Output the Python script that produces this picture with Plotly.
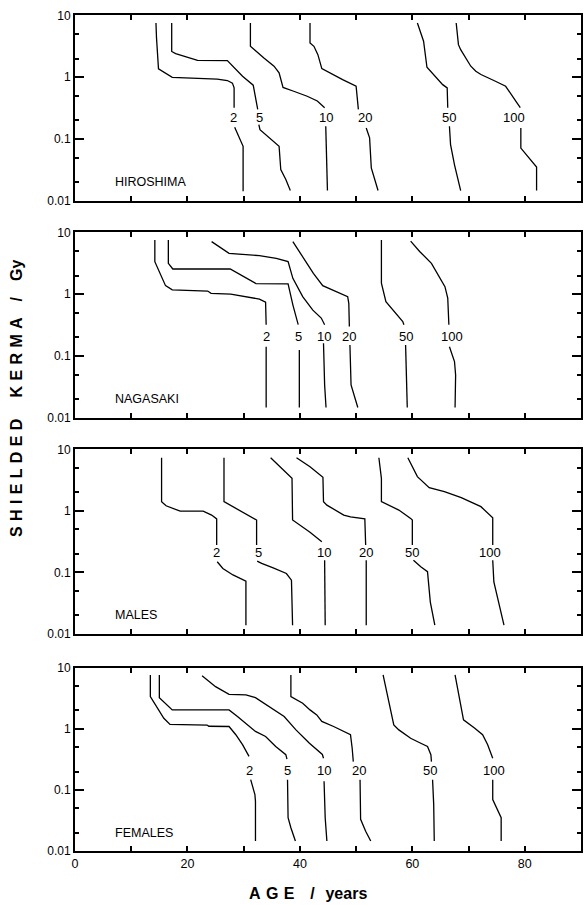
import plotly.graph_objects as go
import math

# ---------------- data (age in years, shielded kerma in Gy) ----------------
LEVELS = [2, 5, 10, 20, 50, 100]
PANEL_NAMES = ["HIROSHIMA", "NAGASAKI", "MALES", "FEMALES"]

# each contour: upper branch / lower branch (gap left for the label)
hiroshima_upper = {
    2: [(14.4, 7.5), (14.5, 4.3), (14.85, 1.36), (17.3, 0.99), (25.3, 0.93), (27.1, 0.88), (28.0, 0.80), (28.3, 0.67), (28.3, 0.32)],
    5: [(17.2, 7.5), (17.2, 2.6), (17.9, 2.4), (21.8, 1.87), (27.1, 1.85), (29.8, 1.03), (31.7, 0.74), (32.4, 0.36), (32.5, 0.30)],
    10: [(31.2, 7.5), (31.2, 3.15), (33.6, 2.04), (35.4, 1.5), (36.3, 1.17), (37.0, 0.68), (38.9, 0.59), (41.3, 0.49), (43.1, 0.41), (44.4, 0.32)],
    20: [(41.8, 7.5), (41.8, 3.57), (42.5, 3.15), (43.2, 2.31), (43.9, 1.37), (45.6, 1.12), (47.6, 0.91), (50.0, 0.71), (50.3, 0.36), (50.4, 0.30)],
    50: [(60.9, 7.5), (62.0, 3.8), (62.6, 1.44), (65.4, 0.755), (66.2, 0.67), (66.3, 0.32)],
    100: [(67.8, 7.5), (68.2, 3.35), (68.6, 2.78), (70.4, 1.5), (71.3, 1.24), (72.2, 1.10), (74.5, 0.88), (76.6, 0.71), (78.4, 0.41), (79.2, 0.32)],
}
hiroshima_lower = {
    2: [(28.4, 0.154), (29.2, 0.104), (29.9, 0.076), (29.9, 0.0142)],
    5: [(32.7, 0.17), (32.9, 0.141), (36.3, 0.076), (36.6, 0.032), (37.5, 0.022), (38.3, 0.0146)],
    10: [(44.6, 0.16), (44.7, 0.049), (44.9, 0.0146)],
    20: [(51.8, 0.150), (52.4, 0.104), (52.7, 0.034), (53.3, 0.023), (53.9, 0.0146)],
    50: [(66.6, 0.16), (66.8, 0.081), (67.5, 0.038), (68.6, 0.0146)],
    100: [(79.3, 0.150), (79.3, 0.071), (82.1, 0.035), (82.1, 0.0146)],
}
hiroshima_label_age = [28.2, 32.8, 44.7, 51.5, 66.6, 78.1]
hiroshima_label_kerma = [0.224] * 6

nagasaki_upper = {
    2: [(14.2, 7.5), (14.2, 3.35), (16.1, 1.37), (17.3, 1.17), (23.6, 1.12), (24.2, 1.03), (27.7, 1.0), (30.4, 0.91), (32.8, 0.83), (33.9, 0.74), (34.0, 0.32)],
    5: [(16.6, 7.5), (16.6, 3.15), (17.4, 2.55), (27.6, 2.55), (32.2, 1.48), (37.9, 1.46), (38.75, 0.67), (39.5, 0.36), (39.7, 0.32)],
    10: [(24.3, 7.06), (27.4, 4.57), (32.8, 4.19), (35.8, 3.79), (37.9, 3.35), (38.75, 1.80), (40.5, 0.91), (42.3, 0.55), (43.8, 0.41), (44.4, 0.32)],
    20: [(38.75, 7.06), (41.1, 3.35), (42.4, 2.17), (44.06, 1.37), (46.4, 1.10), (48.5, 0.91), (48.7, 0.71), (48.8, 0.30)],
    50: [(54.5, 7.5), (54.5, 1.50), (55.3, 0.755), (57.1, 0.49), (58.3, 0.36), (58.5, 0.32)],
    100: [(59.7, 7.2), (61.3, 4.9), (63.4, 3.15), (64.6, 2.04), (65.8, 1.32), (66.3, 0.86), (66.5, 0.32)],
}
nagasaki_lower = {
    2: [(34.0, 0.141), (34.0, 0.0146)],
    5: [(39.9, 0.125), (39.9, 0.0146)],
    10: [(44.2, 0.16), (44.4, 0.034), (44.65, 0.0146)],
    20: [(48.9, 0.15), (49.1, 0.034), (50.3, 0.0146)],
    50: [(58.8, 0.15), (59.1, 0.0146)],
    100: [(66.6, 0.141), (67.5, 0.081), (67.7, 0.049), (67.6, 0.0146)],
}
nagasaki_label_age = [34.0, 39.8, 44.3, 48.7, 58.8, 67.1]
nagasaki_label_kerma = [0.205] * 6

males_upper = {
    2: [(15.4, 7.3), (15.4, 1.41), (16.2, 1.21), (17.4, 1.10), (18.7, 0.99), (22.8, 0.99), (24.3, 0.855), (25.2, 0.74), (25.2, 0.28)],
    5: [(26.5, 7.3), (26.5, 1.41), (32.3, 0.71), (32.3, 0.28)],
    10: [(34.8, 7.3), (38.6, 3.37), (38.7, 0.71), (41.8, 0.45), (43.9, 0.315)],
    20: [(39.4, 7.3), (41.8, 5.2), (44.1, 3.5), (44.2, 1.41), (44.8, 1.24), (47.8, 0.855), (49.0, 0.80), (51.55, 0.74), (51.7, 0.28)],
    50: [(54.05, 7.3), (54.5, 3.37), (54.5, 1.41), (55.5, 1.28), (57.6, 1.03), (59.7, 0.755), (60.0, 0.71), (60.0, 0.28)],
    100: [(59.2, 7.3), (60.9, 3.6), (63.0, 2.38), (65.7, 2.05), (68.7, 1.64), (72.2, 1.17), (74.3, 0.77), (74.3, 0.28)],
}
males_lower = {
    2: [(25.3, 0.149), (26.3, 0.116), (28.1, 0.091), (30.4, 0.072), (30.4, 0.0139)],
    5: [(32.4, 0.153), (33.2, 0.14), (35.25, 0.119), (37.6, 0.096), (38.5, 0.075), (38.7, 0.0139)],
    10: [(44.4, 0.158), (44.5, 0.0139)],
    20: [(51.8, 0.158), (51.8, 0.0139)],
    50: [(60.2, 0.158), (61.5, 0.124), (62.7, 0.103), (63.2, 0.033), (64.0, 0.0139)],
    100: [(74.3, 0.158), (74.5, 0.070), (76.3, 0.0139)],
}
males_label_age = [25.2, 32.6, 44.3, 51.7, 60.0, 73.9]
males_label_kerma = [0.21] * 6

females_upper = {
    2: [(13.4, 7.6), (13.4, 3.37), (15.8, 1.49), (16.9, 1.18), (23.5, 1.15), (23.8, 1.10), (27.4, 1.09), (28.6, 0.80), (29.8, 0.55), (30.95, 0.354)],
    5: [(15.0, 7.6), (15.0, 3.24), (17.3, 2.04), (27.4, 2.04), (28.9, 1.59), (32.1, 0.905), (33.9, 0.75), (35.7, 0.515), (37.5, 0.377), (37.7, 0.32)],
    10: [(22.6, 7.4), (25.0, 4.9), (27.4, 3.67), (30.4, 3.6), (32.1, 3.24), (34.5, 2.31), (37.2, 1.59), (39.3, 0.96), (41.7, 0.58), (44.0, 0.38), (44.2, 0.33)],
    20: [(38.4, 7.6), (38.4, 3.37), (40.5, 2.62), (41.8, 2.04), (43.0, 1.69), (43.9, 1.32), (46.0, 1.09), (49.0, 0.80), (49.3, 0.48), (49.5, 0.29)],
    50: [(54.8, 7.6), (55.8, 2.79), (56.7, 1.16), (57.6, 0.96), (59.7, 0.70), (61.5, 0.58), (62.7, 0.515), (63.3, 0.377), (63.4, 0.29)],
    100: [(67.6, 7.6), (68.4, 3.3), (69.1, 1.40), (71.05, 1.03), (72.5, 0.80), (73.4, 0.55), (74.3, 0.33)],
}
females_lower = {
    2: [(31.25, 0.147), (32.0, 0.084), (32.1, 0.065), (32.1, 0.0146)],
    5: [(37.8, 0.147), (37.9, 0.035), (38.4, 0.024), (39.2, 0.0146)],
    10: [(44.3, 0.138), (44.5, 0.035), (44.8, 0.0146)],
    20: [(50.7, 0.147), (50.8, 0.033), (51.7, 0.021), (52.6, 0.0146)],
    50: [(63.6, 0.147), (63.8, 0.058), (63.9, 0.0146)],
    100: [(74.3, 0.147), (74.3, 0.0696), (75.8, 0.035), (75.8, 0.0146)],
}
females_label_age = [31.0, 37.8, 44.3, 50.5, 63.1, 74.6]
females_label_kerma = [0.206] * 6

x_tick_vals = [0, 10, 20, 30, 40, 50, 60, 70, 80]
x_tick_text = ["0", "", "20", "", "40", "", "60", "", "80"]
y_tick_vals = [0.01, 0.1, 1, 10]
y_tick_text = ["0.01", "0.1", "1", "10"]
y_minor_vals = [0.02, 0.05, 0.2, 0.5, 2, 5]

# ---------------- figure ----------------
W, H = 584, 905
ML, MR = 75, 3
PW = W - ML - MR
FONT = "Liberation Sans, Arial, Helvetica, sans-serif"
panel_px = [(15.3, 200.7), (232.3, 417.7), (449.3, 634.0), (667.7, 851.0)]

panels = [
    (hiroshima_upper, hiroshima_lower, hiroshima_label_age, hiroshima_label_kerma),
    (nagasaki_upper, nagasaki_lower, nagasaki_label_age, nagasaki_label_kerma),
    (males_upper, males_lower, males_label_age, males_label_kerma),
    (females_upper, females_lower, females_label_age, females_label_kerma),
]

fig = go.Figure()
annotations = []
layout_axes = {}

for i, (upper, lower, lab_age, lab_k) in enumerate(panels):
    n = i + 1
    xa = "x" if n == 1 else f"x{n}"
    ya = "y" if n == 1 else f"y{n}"
    for lev in LEVELS:
        xs = [p[0] for p in upper[lev]] + [None] + [p[0] for p in lower[lev]]
        ys = [p[1] for p in upper[lev]] + [None] + [p[1] for p in lower[lev]]
        fig.add_trace(go.Scatter(x=xs, y=ys, mode="lines", xaxis=xa, yaxis=ya,
                                 line=dict(color="black", width=1.3),
                                 connectgaps=False, showlegend=False, hoverinfo="skip"))
    for lev, a, k in zip(LEVELS, lab_age, lab_k):
        annotations.append(dict(x=a, y=math.log10(k), xref=xa, yref=ya, text=str(lev),
                                showarrow=False, font=dict(family=FONT, size=13, color="black"),
                                xanchor="center", yanchor="middle"))
    annotations.append(dict(x=6.8, y=math.log10(0.02), xref=xa, yref=ya, text=PANEL_NAMES[i],
                            showarrow=False, font=dict(family=FONT, size=12.5, color="black"),
                            xanchor="left", yanchor="middle"))

    top, bot = panel_px[i]
    dom = [1 - bot / H, 1 - top / H]
    xkey = "xaxis" if n == 1 else f"xaxis{n}"
    ykey = "yaxis" if n == 1 else f"yaxis{n}"
    layout_axes[xkey] = dict(
        domain=[0, 1], anchor=ya, range=[0, 90], showgrid=False, zeroline=False,
        showline=True, linecolor="black", linewidth=2, mirror="ticks",
        ticks="inside", ticklen=5, tickwidth=1.5, tickcolor="black",
        tickvals=x_tick_vals, ticktext=x_tick_text,
        showticklabels=(n == 4), tickfont=dict(family=FONT, size=12.5, color="black"),
    )
    layout_axes[ykey] = dict(
        domain=dom, anchor=xa, type="log", range=[-2, 1], showgrid=False, zeroline=False,
        showline=True, linecolor="black", linewidth=2, mirror="ticks",
        ticks="inside", ticklen=9, tickwidth=2, tickcolor="black",
        tickvals=y_tick_vals, ticktext=y_tick_text,
        tickfont=dict(family=FONT, size=12, color="black"),
        minor=dict(tickvals=y_minor_vals, ticks="inside", ticklen=4, tickwidth=1.5,
                   tickcolor="black", showgrid=False),
    )

sp = "\u2004"
ytitle = sp.join("SHIELDED") + sp * 4 + sp.join("KERMA") + sp * 3 + "/" + sp * 3 + "Gy"
annotations.append(dict(x=(17 - ML) / PW, y=1 - 398 / H, xref="paper", yref="paper", text=ytitle,
                        textangle=-90, showarrow=False,
                        font=dict(family=FONT, size=16, color="black", weight="bold"),
                        xanchor="center", yanchor="middle"))
xtitle = sp.join("AGE") + sp * 3 + "/" + sp * 2 + "years"
annotations.append(dict(x=(308 - ML) / PW, y=1 - 893 / H, xref="paper", yref="paper", text=xtitle,
                        showarrow=False,
                        font=dict(family=FONT, size=16, color="black", weight="bold"),
                        xanchor="center", yanchor="middle"))

fig.update_layout(
    width=W, height=H,
    margin=dict(l=ML, r=MR, t=0, b=0, autoexpand=False),
    paper_bgcolor="white", plot_bgcolor="white",
    showlegend=False,
    annotations=annotations,
    **layout_axes,
)

fig.write_html("out.html")
